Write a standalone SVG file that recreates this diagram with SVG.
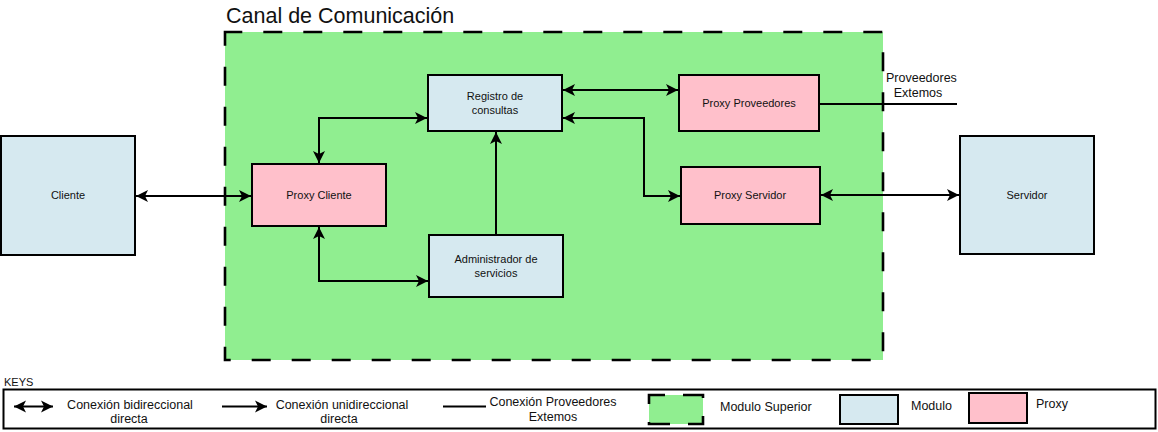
<svg xmlns="http://www.w3.org/2000/svg" width="1158" height="432" viewBox="0 0 1158 432">
<style>
text{font-family:"Liberation Sans",Arial,sans-serif;fill:#111;}
.n{font-size:11px;text-anchor:middle;}
.k{font-size:12.5px;}
.c{text-anchor:middle;}
.mod{fill:#d6e9f0;stroke:#000;stroke-width:2;}
.prx{fill:#ffc0cb;stroke:#000;stroke-width:2;}
.sup{fill:#90ee90;stroke:#000;stroke-width:2.6;}
.ln{fill:none;stroke:#000;stroke-width:2;}
</style>
<defs>
<marker id="arr" viewBox="-13 -7 14 14" refX="0" refY="0" markerWidth="14" markerHeight="14" markerUnits="userSpaceOnUse" orient="auto-start-reverse">
<path d="M0,0 L-12,-6 L-9,0 L-12,6 Z" fill="#000"/>
</marker>
</defs>
<rect width="1158" height="432" fill="#fff"/>
<g id="canal">
<rect class="sup" x="225" y="32" width="658" height="328" stroke-dasharray="19 21" stroke-dashoffset="1.7"/>
<text x="226" y="23" font-size="21.5">Canal de Comunicación</text>
</g>
<g id="cliente">
<rect class="mod" x="1" y="136" width="134" height="119"/>
<text class="n" x="68" y="199">Cliente</text>
</g>
<g id="servidor">
<rect class="mod" x="960" y="136" width="134" height="118"/>
<text class="n" x="1027" y="199">Servidor</text>
</g>
<g id="registro">
<rect class="mod" x="428" y="75" width="134" height="56"/>
<text class="n" x="495" y="100">Registro de</text>
<text class="n" x="495" y="114">consultas</text>
</g>
<g id="proxy-proveedores">
<rect class="prx" x="679" y="75" width="140" height="56"/>
<text class="n" x="749" y="107">Proxy Proveedores</text>
</g>
<g id="proxy-servidor">
<rect class="prx" x="681" y="167" width="139" height="57"/>
<text class="n" x="750" y="199">Proxy Servidor</text>
</g>
<g id="proxy-cliente">
<rect class="prx" x="252" y="164" width="134" height="62"/>
<text class="n" x="319" y="199">Proxy Cliente</text>
</g>
<g id="administrador">
<rect class="mod" x="429" y="235" width="134" height="62"/>
<text class="n" x="496" y="263">Administrador de</text>
<text class="n" x="496" y="277">servicios</text>
</g>
<g id="connectors">
<path class="ln" d="M136,196 H251" marker-start="url(#arr)" marker-end="url(#arr)"/>
<path class="ln" d="M319,163 V118 H427" marker-start="url(#arr)" marker-end="url(#arr)"/>
<path class="ln" d="M319,227 V281 H428" marker-start="url(#arr)" marker-end="url(#arr)"/>
<path class="ln" d="M496,234 V132" marker-end="url(#arr)"/>
<path class="ln" d="M563,90 H678" marker-start="url(#arr)" marker-end="url(#arr)"/>
<path class="ln" d="M563,118 H644 V196 H680" marker-start="url(#arr)" marker-end="url(#arr)"/>
<path class="ln" d="M821,195 H959" marker-start="url(#arr)" marker-end="url(#arr)"/>
<path class="ln" d="M820,104 H957"/>
<text class="k" x="886" y="82">Proveedores</text>
<text class="k c" x="918" y="97">Extemos</text>
</g>
<g id="legend">
<text x="4" y="386" font-size="11">KEYS</text>
<rect x="3.5" y="389.5" width="1152" height="39" fill="none" stroke="#000" stroke-width="2"/>
<path class="ln" d="M14,406.5 H53" marker-start="url(#arr)" marker-end="url(#arr)"/>
<text class="k c" x="130" y="409">Conexión bidireccional</text>
<text class="k c" x="129" y="423">directa</text>
<path class="ln" d="M222,406.5 H267" marker-end="url(#arr)"/>
<text class="k c" x="342" y="409">Conexión unidireccional</text>
<text class="k c" x="339" y="423">directa</text>
<path class="ln" d="M443,406.5 H486"/>
<text class="k c" x="553" y="406">Conexión Proveedores</text>
<text class="k c" x="553" y="421">Extemos</text>
<rect class="sup" x="649" y="395" width="54" height="29" stroke-dasharray="23 18" stroke-dashoffset="7"/>
<text class="k" x="720" y="411">Modulo Superior</text>
<rect class="mod" x="840" y="395" width="58" height="29"/>
<text class="k" x="911" y="410">Modulo</text>
<rect class="prx" x="969" y="393" width="58" height="30"/>
<text class="k" x="1036" y="408">Proxy</text>
</g>
</svg>
